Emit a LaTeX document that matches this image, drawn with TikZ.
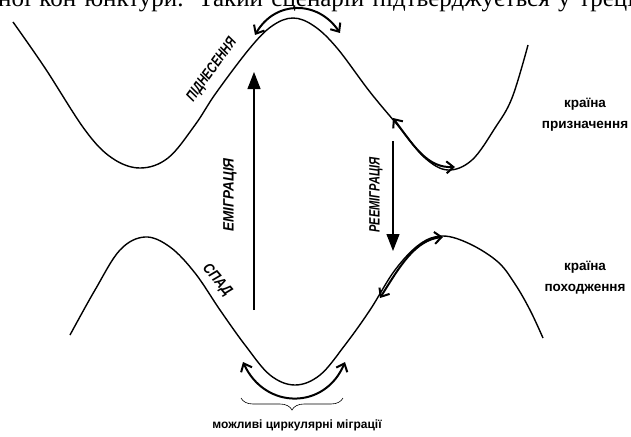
\documentclass[tikz,border=0pt]{standalone}
\usepackage{fontspec}
\setmainfont{Liberation Serif}
\setsansfont{Liberation Sans}
\usetikzlibrary{arrows.meta, calc, decorations.pathreplacing}
\newcommand{\stagelabel}[2]{\scalebox{#1}[1]{#2}}

\begin{document}
\begin{tikzpicture}[x=1pt, y=-1pt,
  wave/.style={line width=1.4pt, line join=round},
  swing/.style={line width=2pt, {Straight Barb[length=7pt,width=12pt]}-{Straight Barb[length=7pt,width=12pt]}},
  flow/.style={line width=1.1pt, -{Triangle[length=17pt,width=13pt]}},
  phase/.style={font=\sffamily\bfseries\itshape\fontsize{15}{15}\selectfont, inner sep=0pt},
  country/.style={font=\sffamily\bfseries\fontsize{13.5}{21}\selectfont, align=center}]
  \useasboundingbox (0,0) rectangle (631,436);

  % clipped line of the page above
  \begin{scope}
    \clip (0,0) rectangle (631,20);
    \node (pagetext) [anchor=base west, inner sep=0pt, font=\fontsize{25}{25}\selectfont] at (-2,7)
      {\makebox[636pt][s]{ної кон’юнктури. Такий сценарій підтверджується у треці}};
  \end{scope}

  % destination country cycle
  \draw[wave] plot[smooth, tension=0.6] coordinates {(13,22) (45,68) (85,130) (112,158) (140,168) (168,158) (195,125) (216,93) (250,48) (272,26) (293,18) (314,26) (337,48) (370,92) (400,128) (425,158) (448,170) (472,160) (495,128) (512,98) (528,45)};
  % origin country cycle
  \draw[wave] plot[smooth, tension=0.6] coordinates {(70,335) (95,290) (120,250) (145,237) (170,247) (195,273) (220,310) (245,345) (270,375) (295,385) (320,375) (345,345) (370,310) (395,270) (420,244) (443,236) (470,244) (498,262) (515,284) (530,310) (543,338)};

  % circular moves near the turning points
  \coordinate (peakL) at (255,35);
  \coordinate (peakR) at (340,33);
  \coordinate (troughL) at (243,362);
  \coordinate (troughR) at (345,362);
  \coordinate (fallA) at (393,118);
  \coordinate (fallB) at (455,167);
  \coordinate (riseA) at (380,298);
  \coordinate (riseB) at (443,237);
  \draw[swing] (peakL) .. controls (275,0) and (318,0) .. (peakR);
  \draw[swing] (troughL) .. controls (265,410) and (325,410) .. (troughR);
  \draw[swing] (fallA) .. controls (415,148) and (428,168) .. (fallB);
  \draw[swing] (riseA) .. controls (400,266) and (415,240) .. (riseB);

  % migration flows
  \coordinate (emiFrom) at (254,310);
  \coordinate (emiTo) at (254,72);
  \coordinate (reFrom) at (393,141);
  \coordinate (reTo) at (393,251);
  \draw[flow] (emiFrom) -- (emiTo);
  \draw[flow] (reFrom) -- (reTo);

  \node (emi) [phase, rotate=90] at (230,195) {\stagelabel{0.9}{ЕМІГРАЦІЯ}};
  \node (reemi) [phase, rotate=90] at (376,195) {\stagelabel{0.74}{РЕЕМІГРАЦІЯ}};
  \node (boom) [phase, rotate=54] at (212,70) {\stagelabel{0.74}{ПІДНЕСЕННЯ}};
  \node (slump) [phase, rotate=-50] at (217,280) {\stagelabel{0.85}{СПАД}};

  \node (dest) [country] at (585,115) {країна\\призначення};
  \node (origin) [country] at (585,278) {країна\\походження};

  \draw[line width=0.6pt, decorate, decoration={brace, amplitude=12pt}] (343,398) -- (241,398);
  \node (circ) [font=\sffamily\bfseries\fontsize{12}{12}\selectfont] at (297,425) {можливі циркулярні міграції};
\end{tikzpicture}
\end{document}
